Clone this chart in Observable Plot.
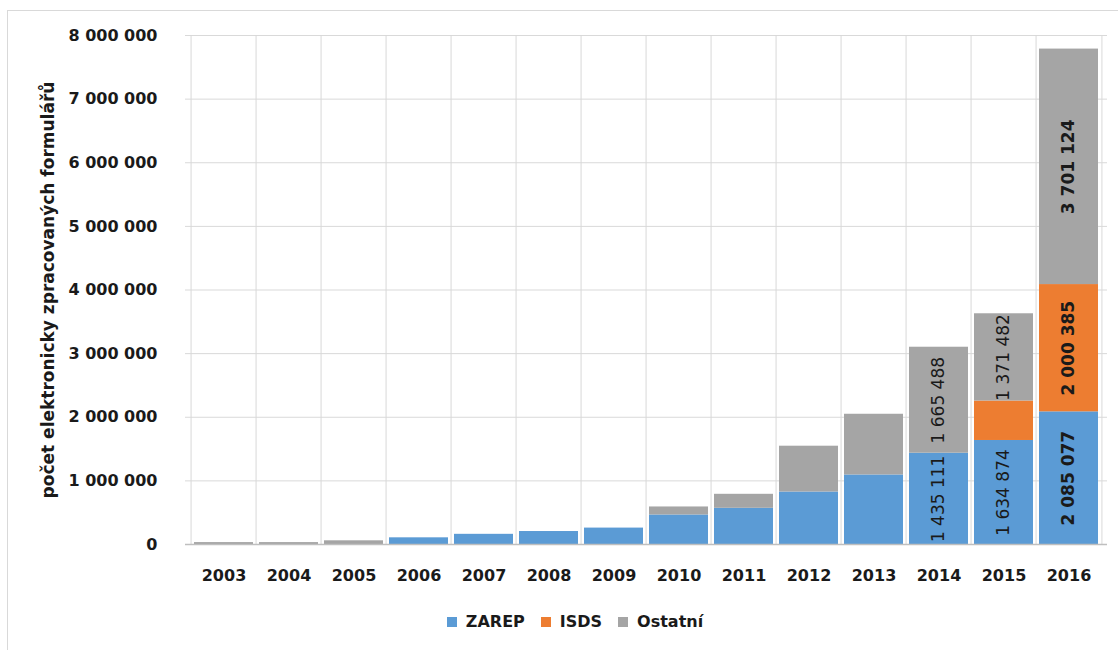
<!DOCTYPE html>
<html>
<head>
<meta charset="utf-8">
<script src="https://cdn.jsdelivr.net/npm/d3@7"></script>
<script src="https://cdn.jsdelivr.net/npm/@observablehq/plot@0.6"></script>
<style>
  html, body { margin: 0; padding: 0; background: #fff; overflow: hidden; }
  body { width: 1118px; height: 650px; position: relative; font-family: "DejaVu Sans", sans-serif; }
  #frame { position: absolute; left: 7px; top: 10px; width: 1200px; height: 700px; border: 1px solid #d9d9d9; box-sizing: border-box; }
  #chart { position: absolute; left: 0; top: 0; }
  #legend { position: absolute; left: 0; top: 610px; width: 1118px; padding-left: 32px; box-sizing: border-box;
            display: flex; justify-content: center; gap: 16px; font-weight: bold; font-size: 16px; color: #1a1a1a; line-height: 24px; }
  .item { display: flex; align-items: center; gap: 9px; }
  .sw { width: 10px; height: 10px; display: inline-block; }
</style>
</head>
<body>
<div id="frame"></div>
<div id="chart"></div>
<div id="legend"></div>
<script>
// Roky a počty elektronicky zpracovaných formulářů podle kanálu
const years = ["2003", "2004", "2005", "2006", "2007", "2008", "2009", "2010", "2011", "2012", "2013", "2014", "2015", "2016"];
const zarep   = [0, 0, 0, 105000, 160000, 204000, 258000, 464000, 569000, 825000, 1093000, 1435111, 1634874, 2085077];
const isds    = [0, 0, 0, 0, 0, 0, 0, 0, 0, 0, 0, 0, 620000, 2000385];
const ostatni = [30000, 30000, 58000, 0, 0, 0, 0, 126000, 220000, 720000, 954000, 1665488, 1371482, 3701124];

const seriesNames = ["ZAREP", "ISDS", "Ostatní"];
const seriesColors = ["#5b9bd5", "#ed7d31", "#a5a5a5"];
const yTicks = [0, 1e6, 2e6, 3e6, 4e6, 5e6, 6e6, 7e6, 8e6];
const yTitle = "počet elektronicky zpracovaných formulářů";
const boldYear = "2016";

const rows = [];
years.forEach((year, i) => {
  [zarep, isds, ostatni].forEach((vals, s) => rows.push({year, series: seriesNames[s], value: vals[i]}));
});

const fmt = d3.formatLocale({decimal: ",", thousands: "\u00a0", grouping: [3], currency: ["", ""]}).format(",d");

// values are printed in the tall segments of the latest years
const hasLabel = d => +d.year >= 2014 && d.value >= 1e6;

const W = 1118, H = 600, ML = 185, MR = 11, MT = 35, MB = 56;
const step = (W - ML - MR) / years.length;

const stacked = extra => Plot.stackY({
  x: "year", y: "value", z: "series", order: seriesNames,
  rotate: -90, fontSize: 17, fill: "#1a1a1a", ...extra
});

const chart = Plot.plot({
  width: W, height: H,
  marginLeft: ML, marginRight: MR, marginTop: MT, marginBottom: MB,
  style: {fontFamily: "'DejaVu Sans', sans-serif", fontSize: "16px", color: "#1a1a1a", background: "transparent"},
  x: {domain: years, paddingInner: 0.1, paddingOuter: 0.05, label: null},
  y: {domain: [0, 8e6], label: null},
  color: {domain: seriesNames, range: seriesColors},
  marks: [
    Plot.gridY(yTicks, {stroke: "#d9d9d9", strokeOpacity: 1}),
    Plot.ruleX(years, {x: d => d, dx: -step / 2, stroke: "#d9d9d9"}),
    Plot.ruleX(years.slice(-1), {x: d => d, dx: step / 2, stroke: "#d9d9d9"}),
    Plot.barY(rows, {x: "year", y: "value", fill: "series", order: seriesNames}),
    Plot.ruleY([0], {stroke: "#bfbfbf", strokeWidth: 1.5}),
    Plot.axisY(yTicks, {tickSize: 0, tickPadding: 28, tickFormat: fmt, fontWeight: "bold", fontSize: 16}),
    Plot.axisX({tickSize: 0, tickPadding: 25, fontWeight: "bold", fontSize: 16}),
    Plot.text(rows, stacked({text: d => hasLabel(d) && d.year !== boldYear ? fmt(d.value) : null, fontWeight: "normal"})),
    Plot.text(rows, stacked({text: d => hasLabel(d) && d.year === boldYear ? fmt(d.value) : null, fontWeight: "bold"})),
    Plot.text([yTitle], {frameAnchor: "left", textAnchor: "middle", dx: -137, rotate: -90, fontWeight: "bold", fontSize: 17, fill: "#1a1a1a"})
  ]
});
document.getElementById("chart").append(chart);

// legend below the chart
const legend = document.getElementById("legend");
seriesNames.forEach((name, i) => {
  const item = document.createElement("span");
  item.className = "item";
  const sw = document.createElement("span");
  sw.className = "sw";
  sw.style.background = seriesColors[i];
  item.append(sw, document.createTextNode(name));
  legend.append(item);
});
</script>
</body>
</html>
